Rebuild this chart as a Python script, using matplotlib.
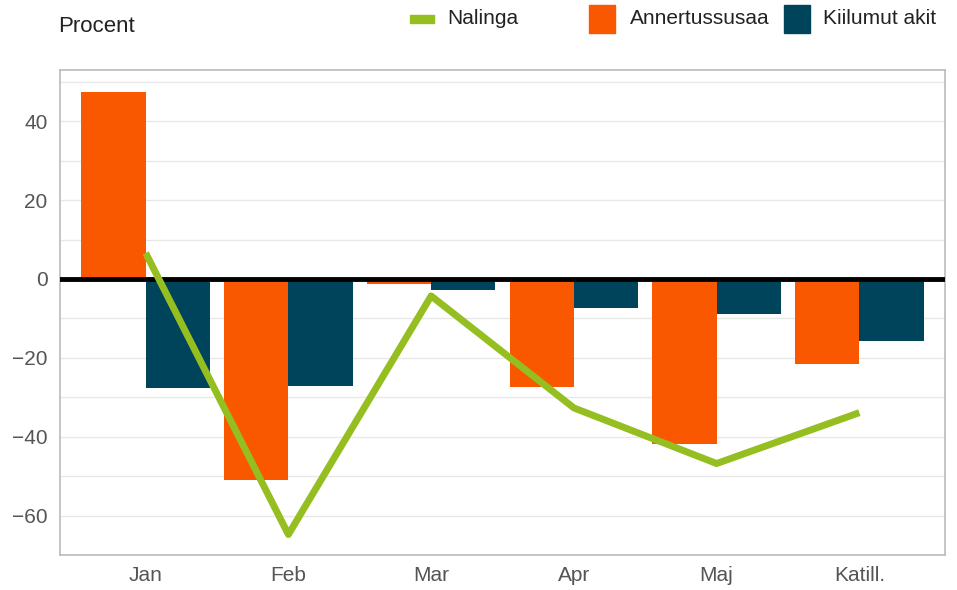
import matplotlib
matplotlib.use("Agg")
import matplotlib.pyplot as plt
import matplotlib.patches as mpatches
import numpy as np

plt.rcParams["font.family"] = ["Liberation Sans", "DejaVu Sans"]

months = ["Jan", "Feb", "Mar", "Apr", "Maj", "Katill."]
annertussusaa = [47.3, -51.1, -1.2, -27.3, -41.8, -21.5]
kiilumut_akit = [-27.6, -27.1, -2.8, -7.3, -8.9, -15.7]
nalinga = [6.6, -64.8, -4.3, -32.7, -46.8, -33.9]

ORANGE = "#F95700"
TEAL = "#00445C"
GREEN = "#95BE20"
TXT = "#222222"

fig = plt.figure(figsize=(9.57, 5.90), dpi=100)
ax = fig.add_axes([60 / 957, 35 / 590, 885 / 957, 485 / 590])

x = np.arange(len(months))
w = 0.45
ax.bar(x - w / 2, annertussusaa, width=w, color=ORANGE, zorder=2)
ax.bar(x + w / 2, kiilumut_akit, width=w, color=TEAL, zorder=2)
ax.axhline(0, color="black", linewidth=3.5, zorder=3)
ax.plot(x, nalinga, color=GREEN, linewidth=5, solid_joinstyle="round",
        solid_capstyle="butt", zorder=4)

ax.set_xlim(-0.6, 5.6)
ax.set_ylim(-70, 53)
ax.set_yticks([-60, -40, -20, 0, 20, 40])
ax.set_yticklabels(["\u221260", "\u221240", "\u221220", "0", "20", "40"])
ax.set_xticks(x)
ax.set_xticklabels(months)
ax.set_yticks(np.arange(-60, 51, 10), minor=True)
ax.grid(True, axis="y", which="both", color="#e8e8e8", linewidth=1, zorder=0)
ax.tick_params(which="both", length=0, labelsize=15, colors="#555555")
ax.tick_params(axis="x", pad=8)
ax.tick_params(axis="y", pad=9)
for s in ax.spines.values():
    s.set_color("#bbbbbb")
    s.set_linewidth(1.2)

fig.text(58 / 957, 1 - 27 / 590, "Procent", fontsize=16, color=TXT,
         va="center", ha="left")


# legend, drawn by hand to get the tall swatches
def fx(px):
    return px / 957


def fy(py):
    return 1 - py / 590


legend_y = 19
fig.patches.append(mpatches.Rectangle((fx(410), fy(23)), fx(24), 8 / 590,
                                      color=GREEN, transform=fig.transFigure))
fig.text(fx(447), fy(legend_y), "Nalinga", fontsize=15, color=TXT, va="center")
fig.patches.append(mpatches.Rectangle((fx(589), fy(33)), fx(26), 28 / 590,
                                      color=ORANGE, transform=fig.transFigure))
fig.text(fx(630), fy(legend_y), "Annertussusaa", fontsize=15, color=TXT, va="center")
fig.patches.append(mpatches.Rectangle((fx(784), fy(33)), fx(26), 28 / 590,
                                      color=TEAL, transform=fig.transFigure))
fig.text(fx(823), fy(legend_y), "Kiilumut akit", fontsize=15, color=TXT, va="center")

fig.savefig("out.png", dpi=100)
